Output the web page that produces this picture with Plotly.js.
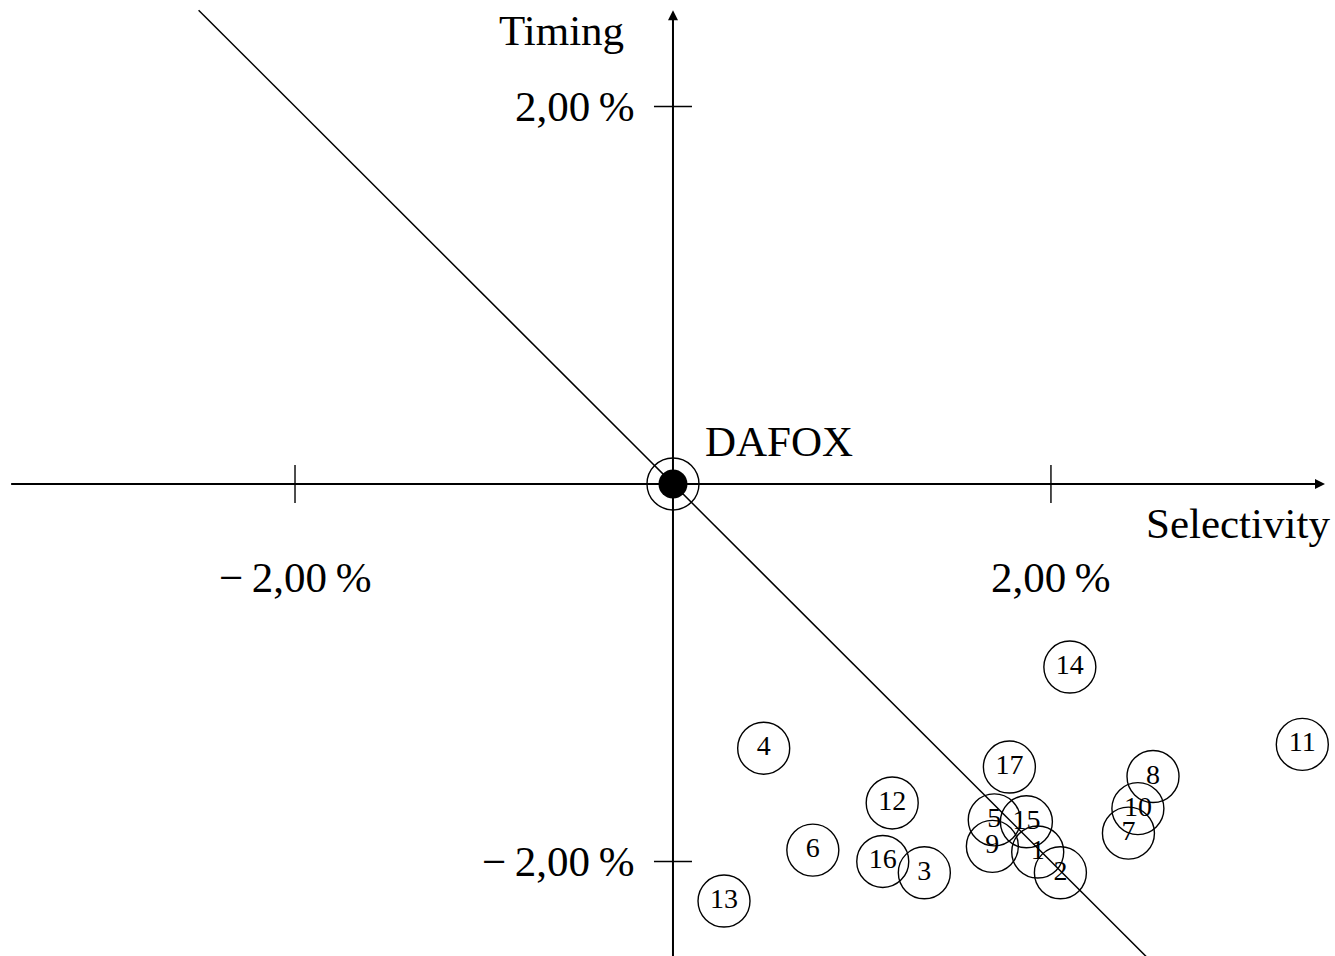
<!DOCTYPE html>
<html>
<head>
<meta charset="utf-8">
<script src="https://cdn.plot.ly/plotly-3.0.1.min.js"></script>
<style>
  html, body { margin: 0; padding: 0; background: #fff; }
  #chart { width: 1335px; height: 956px; }
</style>
</head>
<body>
<div id="chart"></div>
<script>
// Fund performance decomposition: selectivity vs. timing (in %), relative to the DAFOX benchmark
const fundIds     = ["1","2","3","4","5","6","7","8","9","10","11","12","13","14","15","16","17"];
const selectivity = [1.93, 2.05, 1.33, 0.48, 1.70, 0.74, 2.41, 2.54, 1.69, 2.46, 3.33, 1.16, 0.27, 2.10, 1.87, 1.11, 1.78];
const timing      = [-1.95, -2.06, -2.06, -1.40, -1.78, -1.94, -1.85, -1.55, -1.92, -1.72, -1.38, -1.69, -2.21, -0.97, -1.79, -2.00, -1.50];

const benchmarkName = "DAFOX";
const benchmark = {x: 0, y: 0};

const tickValues = [-2, 2];
const tickLabels = ["\u2212\u20092,00\u2009%", "2,00\u2009%"];

// iso-performance line: selectivity + timing = 0
const isoX = [-2.51, 2.51];
const isoY = isoX.map(v => -v);

// visible extent of the drawn axes
const xAxisSpan = [-3.51, 3.45];
const yAxisSpan = [-2.51, 2.51];

const FONT = "'Liberation Serif', 'DejaVu Serif', serif";
const LABEL_SIZE = 43;

const traces = [
  {
    x: isoX, y: isoY, mode: "lines",
    line: {color: "#000", width: 1.5},
    hoverinfo: "skip"
  },
  {
    x: selectivity, y: timing, text: fundIds,
    mode: "markers+text",
    marker: {symbol: "circle-open", size: 52, color: "#000", line: {color: "#000", width: 1.4}},
    textposition: "middle center",
    textfont: {family: FONT, size: 28, color: "#000"},
    cliponaxis: false
  },
  {
    x: [benchmark.x], y: [benchmark.y], mode: "markers",
    marker: {symbol: "circle-open", size: 52, color: "#000", line: {color: "#000", width: 1.4}}
  },
  {
    x: [benchmark.x], y: [benchmark.y], mode: "markers",
    marker: {symbol: "circle", size: 29, color: "#000", line: {width: 0}}
  }
];

const shapes = [];
tickValues.forEach(v => {
  // tick on horizontal axis
  shapes.push({type: "line", xref: "x", yref: "y", ysizemode: "pixel", yanchor: 0,
    x0: v, x1: v, y0: -19, y1: 19, line: {color: "#000", width: 1.4}});
  // tick on vertical axis
  shapes.push({type: "line", xref: "x", yref: "y", xsizemode: "pixel", xanchor: 0,
    y0: v, y1: v, x0: -19, x1: 19, line: {color: "#000", width: 1.4}});
});

const annotations = [
  // horizontal axis with arrow
  {x: xAxisSpan[1], y: 0, ax: xAxisSpan[0], ay: 0, axref: "x", ayref: "y", xref: "x", yref: "y",
   text: "", showarrow: true, arrowhead: 2, arrowsize: 1, arrowwidth: 2, arrowcolor: "#000"},
  // vertical axis with arrow
  {x: 0, y: yAxisSpan[1], ax: 0, ay: yAxisSpan[0], axref: "x", ayref: "y", xref: "x", yref: "y",
   text: "", showarrow: true, arrowhead: 2, arrowsize: 1, arrowwidth: 2, arrowcolor: "#000"},
  // axis titles
  {x: xAxisSpan[1], y: 0, xref: "x", yref: "y", xanchor: "right", yanchor: "middle",
   xshift: 7, yshift: -40, text: "Selectivity", showarrow: false,
   font: {family: FONT, size: LABEL_SIZE, color: "#000"}},
  {x: 0, y: yAxisSpan[1], xref: "x", yref: "y", xanchor: "right", yanchor: "middle",
   xshift: -47, yshift: -20, text: "Timing", showarrow: false,
   font: {family: FONT, size: LABEL_SIZE, color: "#000"}},
  // benchmark label
  {x: benchmark.x, y: benchmark.y, xref: "x", yref: "y", xanchor: "left", yanchor: "middle",
   xshift: 30, yshift: 42, text: benchmarkName, showarrow: false,
   font: {family: FONT, size: LABEL_SIZE, color: "#000"}}
];

tickValues.forEach((v, i) => {
  annotations.push({x: v, y: 0, xref: "x", yref: "y", xanchor: "center", yanchor: "middle",
    yshift: -94, text: tickLabels[i], showarrow: false,
    font: {family: FONT, size: LABEL_SIZE, color: "#000"}});
  annotations.push({x: 0, y: v, xref: "x", yref: "y", xanchor: "right", yanchor: "middle",
    xshift: -36, text: tickLabels[i], showarrow: false,
    font: {family: FONT, size: LABEL_SIZE, color: "#000"}});
});

const layout = {
  width: 1335, height: 956,
  margin: {l: 0, r: 0, t: 0, b: 0},
  paper_bgcolor: "#fff", plot_bgcolor: "#fff",
  showlegend: false,
  xaxis: {range: [-3.561, 3.503], visible: false, fixedrange: true},
  yaxis: {range: [-2.501, 2.564], visible: false, fixedrange: true},
  shapes: shapes,
  annotations: annotations
};

Plotly.newPlot("chart", traces, layout, {displayModeBar: false, staticPlot: true});
</script>
</body>
</html>
